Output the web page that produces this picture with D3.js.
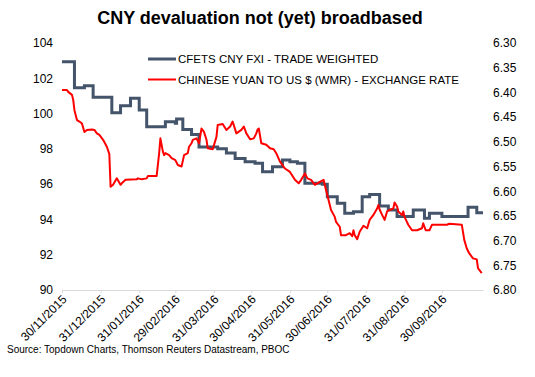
<!DOCTYPE html>
<html>
<head>
<meta charset="utf-8">
<script src="https://cdn.jsdelivr.net/npm/d3@7"></script>
<style>
  body { margin: 0; background: #fff; }
  svg text { font-family: "Liberation Sans", Arial, sans-serif; fill: #000; }
</style>
</head>
<body>
<div id="chart"></div>
<script>
// CFETS basket index (weekly, step line) - left axis
const cfetsDates = ["2015-11-30","2015-12-10","2015-12-18","2015-12-25","2016-01-09","2016-01-16","2016-01-24","2016-01-31",
  "2016-02-06","2016-02-21","2016-02-29","2016-03-01","2016-03-06","2016-03-13","2016-03-19","2016-04-03","2016-04-10",
  "2016-04-17","2016-04-25","2016-05-03","2016-05-09","2016-05-17","2016-05-25","2016-05-31","2016-06-06","2016-06-12",
  "2016-06-26","2016-06-30","2016-07-08","2016-07-14","2016-07-21","2016-07-28","2016-08-03","2016-08-11","2016-08-18",
  "2016-08-25","2016-09-07","2016-09-16","2016-09-20","2016-09-30","2016-10-21","2016-10-28","2016-11-02"];
const cfetsValues = [102.94,101.47,101.58,100.92,100.05,100.45,100.87,100.2,
  99.26,99.54,99.45,99.69,99.1,98.82,98.1,98.0,97.77,
  97.46,97.27,97.18,96.7,96.99,97.37,97.27,97.18,96.05,
  96.0,95.29,94.91,94.35,94.44,95.29,95.42,94.76,94.53,
  94.16,94.53,94.06,94.35,94.16,94.69,94.38,94.38];

// CNY per USD (daily) - right axis, inverted
const usdDates = ["2015-11-30","2015-12-04","2015-12-05","2015-12-08","2015-12-09","2015-12-10","2015-12-12","2015-12-14",
  "2015-12-16","2015-12-18","2015-12-20","2015-12-24","2015-12-26","2015-12-28","2015-12-30","2016-01-02","2016-01-05",
  "2016-01-07","2016-01-08","2016-01-10","2016-01-13","2016-01-16","2016-01-17","2016-01-20","2016-01-29","2016-01-30",
  "2016-02-02","2016-02-06","2016-02-07","2016-02-14","2016-02-16","2016-02-17","2016-02-19","2016-02-20","2016-02-21",
  "2016-02-24","2016-02-26","2016-02-29","2016-03-02","2016-03-05","2016-03-07","2016-03-10","2016-03-11","2016-03-13",
  "2016-03-14","2016-03-17","2016-03-19","2016-03-21","2016-03-23","2016-03-25","2016-03-26","2016-03-30","2016-04-02",
  "2016-04-03","2016-04-07","2016-04-10","2016-04-13","2016-04-15","2016-04-18","2016-04-22","2016-04-24","2016-04-26",
  "2016-04-29","2016-05-02","2016-05-04","2016-05-05","2016-05-06","2016-05-08","2016-05-12","2016-05-15","2016-05-18",
  "2016-05-20","2016-05-23","2016-05-27","2016-05-31","2016-06-04","2016-06-07","2016-06-09","2016-06-12","2016-06-14",
  "2016-06-17","2016-06-20","2016-06-24","2016-06-27","2016-06-29","2016-07-01","2016-07-03","2016-07-06","2016-07-07",
  "2016-07-10","2016-07-11","2016-07-15","2016-07-18","2016-07-20","2016-07-21","2016-07-22","2016-07-24","2016-07-26",
  "2016-07-29","2016-08-01","2016-08-03","2016-08-06","2016-08-09","2016-08-10","2016-08-11","2016-08-13","2016-08-15",
  "2016-08-17","2016-08-19","2016-08-22","2016-08-23","2016-08-25","2016-08-26","2016-08-29","2016-08-30","2016-08-31",
  "2016-09-03","2016-09-06","2016-09-10","2016-09-14","2016-09-15","2016-09-17","2016-09-20","2016-09-22","2016-10-04",
  "2016-10-06","2016-10-16","2016-10-18","2016-10-20","2016-10-22","2016-10-25","2016-10-28","2016-10-29","2016-11-01"];
const usdValues = [6.395,6.395,6.399,6.405,6.415,6.436,6.456,6.459,
  6.463,6.480,6.476,6.475,6.476,6.483,6.486,6.496,6.510,
  6.525,6.591,6.587,6.574,6.587,6.584,6.577,6.576,6.574,
  6.576,6.574,6.569,6.569,6.523,6.493,6.520,6.527,6.523,
  6.527,6.533,6.537,6.547,6.550,6.527,6.523,6.510,6.503,
  6.496,6.493,6.503,6.473,6.480,6.496,6.513,6.515,6.490,
  6.466,6.464,6.476,6.469,6.459,6.483,6.476,6.469,6.483,
  6.495,6.493,6.483,6.475,6.473,6.503,6.506,6.513,6.515,
  6.523,6.540,6.554,6.561,6.577,6.584,6.577,6.564,6.574,
  6.577,6.587,6.581,6.577,6.598,6.618,6.638,6.652,6.662,
  6.672,6.689,6.689,6.685,6.691,6.679,6.689,6.697,6.682,
  6.670,6.675,6.658,6.648,6.635,6.628,6.637,6.648,6.658,
  6.641,6.638,6.635,6.623,6.631,6.641,6.648,6.641,6.652,
  6.668,6.679,6.679,6.675,6.665,6.679,6.679,6.668,6.668,
  6.666,6.668,6.699,6.716,6.726,6.736,6.738,6.756,6.766];

const xTickDates = ["2015-11-30","2015-12-31","2016-01-31","2016-02-29","2016-03-31","2016-04-30",
  "2016-05-31","2016-06-30","2016-07-31","2016-08-31","2016-09-30"];
const leftTicks = [90, 92, 94, 96, 98, 100, 102, 104];
const rightTicks = [6.30, 6.35, 6.40, 6.45, 6.50, 6.55, 6.60, 6.65, 6.70, 6.75, 6.80];
const seriesNames = ["CFETS CNY FXI - TRADE WEIGHTED", "CHINESE YUAN TO US $ (WMR) - EXCHANGE RATE"];
const seriesColors = ["#44546A", "#FF0000"];

const W = 535, H = 377;
const parse = d3.timeParse("%Y-%m-%d");
const fmt = d3.timeFormat("%d/%m/%Y");

const svg = d3.select("#chart").append("svg")
  .attr("width", W).attr("height", H);

var x = d3.scaleTime()
  .domain([parse("2015-11-30"), parse("2016-11-02")])
  .range([62, 483]);
var yL = d3.scaleLinear().domain([90, 104]).range([290, 43]);
var yR = d3.scaleLinear().domain([6.30, 6.80]).range([43, 290]);

// title
svg.append("text")
  .attr("x", 260).attr("y", 24)
  .attr("text-anchor", "middle")
  .style("font-size", "18px").style("font-weight", "bold")
  .text("CNY devaluation not (yet) broadbased");

// bottom axis
const xAxis = svg.append("g")
  .attr("transform", "translate(0,290)")
  .call(d3.axisBottom(x).tickValues(xTickDates.map(parse)).tickFormat(fmt).tickSize(3).tickSizeOuter(0));
xAxis.select(".domain").attr("stroke", "#D9D9D9");
xAxis.selectAll(".tick line").attr("stroke", "#D9D9D9");
xAxis.selectAll("text")
  .attr("font-size", "12px")
  .attr("text-anchor", "end")
  .attr("dy", 0).attr("y", 0)
  .attr("transform", "translate(5,10) rotate(-45)");

// left axis
const lAxis = svg.append("g")
  .attr("transform", "translate(62,0)")
  .call(d3.axisLeft(yL).tickValues(leftTicks).tickSize(0).tickPadding(9));
lAxis.select(".domain").remove();
lAxis.selectAll("text").attr("font-size", "12px");

// right axis
const rAxis = svg.append("g")
  .attr("transform", "translate(483,0)")
  .call(d3.axisRight(yR).tickValues(rightTicks).tickFormat(d3.format(".2f")).tickSize(0).tickPadding(10));
rAxis.select(".domain").remove();
rAxis.selectAll("text").attr("font-size", "12px");

// lines
const cfets = cfetsDates.map((d, i) => ({ date: parse(d), value: cfetsValues[i] }));
const usd = usdDates.map((d, i) => ({ date: parse(d), value: usdValues[i] }));

svg.append("path")
  .datum(cfets)
  .attr("fill", "none")
  .attr("stroke", seriesColors[0])
  .attr("stroke-width", 3)
  .attr("d", d3.line().curve(d3.curveStepAfter).x(d => x(d.date)).y(d => yL(d.value)));

svg.append("path")
  .datum(usd)
  .attr("fill", "none")
  .attr("stroke", seriesColors[1])
  .attr("stroke-width", 2)
  .attr("stroke-linejoin", "round")
  .attr("d", d3.line().x(d => x(d.date)).y(d => yR(d.value)));

// legend
const legend = svg.append("g");
seriesNames.forEach((name, i) => {
  const ly = 59 + i * 20.5;
  legend.append("line")
    .attr("x1", 148).attr("x2", 176).attr("y1", ly).attr("y2", ly)
    .attr("stroke", seriesColors[i]).attr("stroke-width", i == 0 ? 3 : 2);
  legend.append("text")
    .attr("x", 178).attr("y", ly).attr("dy", "0.35em")
    .style("font-size", "11.5px")
    .text(name);
});

// source
svg.append("text")
  .attr("x", 7).attr("y", 353)
  .style("font-size", "10px")
  .text("Source: Topdown Charts, Thomson Reuters Datastream, PBOC");
</script>
</body>
</html>
